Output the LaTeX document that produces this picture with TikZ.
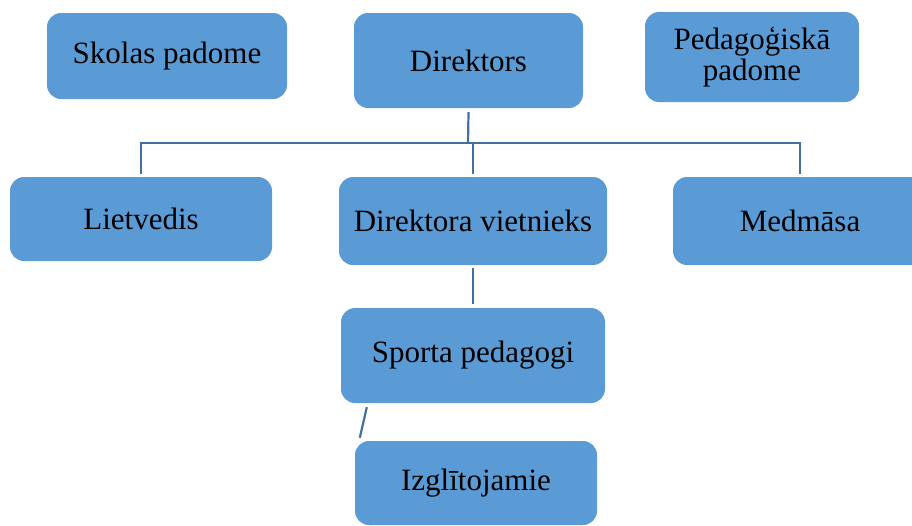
\documentclass[tikz,border=0pt]{standalone}
\usepackage{fontspec}
\setmainfont{Liberation Serif}
\definecolor{boxblue}{RGB}{91,155,213}
\definecolor{lineblue}{RGB}{65,113,156}
\tikzset{
  orgbox/.style={fill=boxblue, rounded corners=14pt, align=center, inner sep=0pt,
    font=\fontsize{31}{31}\selectfont},
  conn/.style={draw=lineblue, line width=2.2pt}
}

\begin{document}
\begin{tikzpicture}[x=1pt,y=-1pt]
\clip (0,0) rectangle (912,525);
% top row
\node[orgbox, minimum width=240pt, minimum height=86pt] (skola) at (167,56) {Skolas padome};
\node[orgbox, minimum width=229pt, minimum height=95pt] (dir) at (468.5,60.5) {Direktors};
\node[orgbox, minimum width=214pt, minimum height=90pt] (peda) at (752,57) {Pedagoģiskā\\padome};

% second row
\node[orgbox, minimum width=262pt, minimum height=84pt] (liet) at (141,219) {Lietvedis};
\node[orgbox, minimum width=268pt, minimum height=88pt] (viet) at (473,221) {Direktora vietnieks};
\node[orgbox, minimum width=254pt, minimum height=88pt] (med) at (800,221) {Medmāsa};

% lower boxes
\node[orgbox, minimum width=264pt, minimum height=95pt] (sport) at (473,355.5) {Sporta pedagogi};
\node[orgbox, minimum width=242pt, minimum height=84pt] (izgl) at (476,483) {Izglītojamie};

% connectors
\coordinate (bus) at (468,143);
\draw[conn] ([yshift=-4pt]dir.south) -- (bus);
\draw[conn] ([yshift=3pt]liet.north) |- (bus) -| ([yshift=3pt]med.north);
\draw[conn] ([yshift=3pt]viet.north) -- (viet.north |- bus);
\draw[conn] ([yshift=-3pt]viet.south) -- ([yshift=4pt]sport.north);
\draw[conn] ([xshift=26pt,yshift=-4pt]sport.south west) -- ([xshift=5pt,yshift=3pt]izgl.north west);
\end{tikzpicture}
\end{document}
